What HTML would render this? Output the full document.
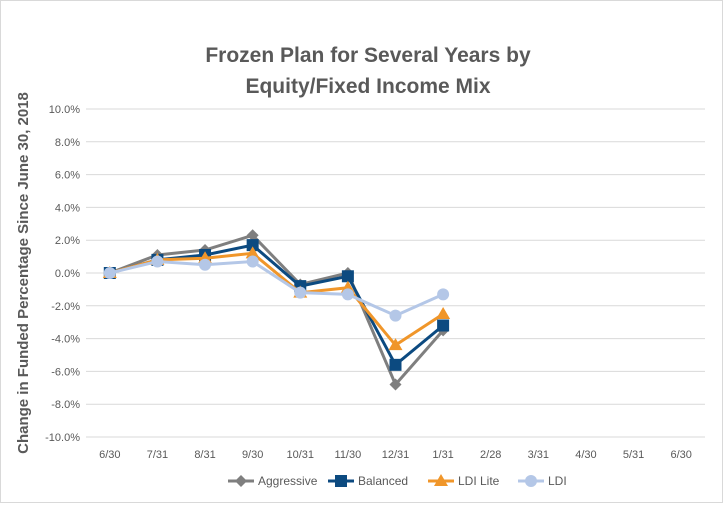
<!DOCTYPE html>
<html><head><meta charset="utf-8"><style>
body{margin:0;background:#fff;font-family:"Liberation Sans",sans-serif}
</style></head><body>
<svg width="723" height="503" xmlns="http://www.w3.org/2000/svg" font-family="Liberation Sans, sans-serif">
<rect x="0.5" y="0.5" width="722" height="502" fill="#fff" stroke="#d9d9d9"/>
<text x="368" y="62" text-anchor="middle" font-size="21" font-weight="bold" fill="#595959">Frozen Plan for Several Years by</text>
<text x="368" y="93" text-anchor="middle" font-size="21" font-weight="bold" fill="#595959">Equity/Fixed Income Mix</text>
<text transform="translate(28,273) rotate(-90)" text-anchor="middle" font-size="15" font-weight="bold" fill="#595959">Change in Funded Percentage Since June 30, 2018</text>
<g id="grid"></g><g id="series"></g><g id="legend"></g>
</svg>
<script>
const categories=["6/30","7/31","8/31","9/30","10/31","11/30","12/31","1/31","2/28","3/31","4/30","5/31","6/30"];
const yTicks=[10,8,6,4,2,0,-2,-4,-6,-8,-10];
const aggressive=[0,1.1,1.4,2.3,-0.7,0.0,-6.8,-3.5];
const balanced=[0,0.8,1.1,1.7,-0.8,-0.2,-5.6,-3.2];
const ldiLite=[0,0.8,0.9,1.2,-1.2,-0.9,-4.4,-2.5];
const ldi=[0,0.7,0.5,0.7,-1.2,-1.3,-2.6,-1.3];
const NS="http://www.w3.org/2000/svg";
const x0=86,x1=705,step=(x1-x0)/categories.length;
const xs=i=>x0+step*(i+0.5);
const ys=v=>273-v*16.4;
function mk(t,a,p){const e=document.createElementNS(NS,t);for(const k in a)e.setAttribute(k,a[k]);p.appendChild(e);return e;}
const grid=document.getElementById('grid');
yTicks.forEach(v=>{
 const l=mk('line',{x1:x0,x2:x1,y1:ys(v),y2:ys(v),stroke:'#d9d9d9','stroke-width':1},grid);
 
 
 const t=mk('text',{x:80,y:ys(v)+4,'text-anchor':'end','font-size':11,fill:'#595959'},grid);
 t.textContent=v.toFixed(1)+'%';
 
 
});
categories.forEach((c,i)=>{
 const t=mk('text',{x:xs(i),y:458,'text-anchor':'middle','font-size':11,fill:'#595959'},grid);
 t.textContent=c;
 
 
});
const series=[
 {name:'Aggressive',data:aggressive,color:'#7f7f7f',m:'diamond'},
 {name:'Balanced',data:balanced,color:'#0c4a80',m:'square'},
 {name:'LDI Lite',data:ldiLite,color:'#f0962a',m:'triangle'},
 {name:'LDI',data:ldi,color:'#b4c7e7',m:'circle'}];
function marker(g,m,x,y,c){
 let e;
 if(m==='diamond')e=mk('polygon',{points:`${x},${y-6} ${x+6},${y} ${x},${y+6} ${x-6},${y}`,fill:c},g);
 else if(m==='square')e=mk('rect',{x:x-6,y:y-6,width:12,height:12,fill:c},g);
 else if(m==='triangle')e=mk('polygon',{points:`${x},${y-7} ${x+7},${y+5} ${x-7},${y+5}`,fill:c},g);
 else e=mk('circle',{cx:x,cy:y,r:6,fill:c},g);
 return e;
}
const sg=document.getElementById('series');
series.forEach(s=>{
 const g=mk('g',{},sg);
 
 
 const pl=mk('polyline',{points:s.data.map((v,i)=>xs(i)+','+ys(v)).join(' '),fill:'none',stroke:s.color,'stroke-width':3},g);
 
 
 s.data.forEach((v,i)=>{const e=marker(g,s.m,xs(i),ys(v),s.color);
  
  });
});
const lg=document.getElementById('legend');
const lx=[228,328,428,518];
series.forEach((s,i)=>{
 const g=mk('g',{},lg);
 
 
 mk('line',{x1:lx[i],x2:lx[i]+26,y1:481,y2:481,stroke:s.color,'stroke-width':3},g);
 marker(g,s.m,lx[i]+13,481,s.color);
 const t=mk('text',{x:lx[i]+30,y:485,'font-size':12,fill:'#595959'},g);
 t.textContent=s.name;
});
</script>
</body></html>
